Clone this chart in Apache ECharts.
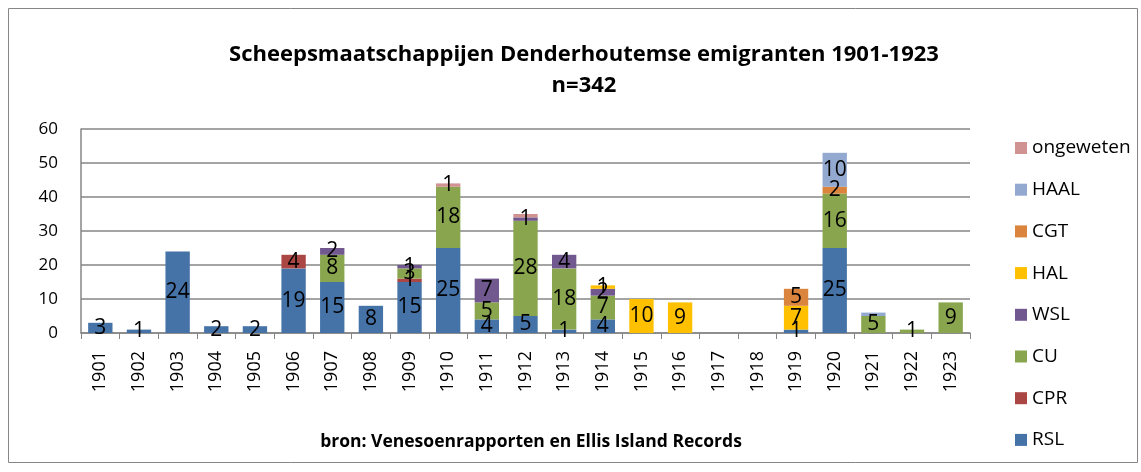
<!DOCTYPE html>
<html>
<head>
<meta charset="utf-8">
<style>
  html, body { margin: 0; padding: 0; background: #fff; }
  #chart { width: 1141px; height: 472px; }
</style>
<script src="https://cdn.jsdelivr.net/npm/echarts@6/dist/echarts.min.js"></script>
</head>
<body>
<div id="chart"></div>
<script>
// Years (categories)
const years = ['1901','1902','1903','1904','1905','1906','1907','1908','1909','1910','1911','1912',
               '1913','1914','1915','1916','1917','1918','1919','1920','1921','1922','1923'];

// Emigrants per shipping company and year
const RSL       = [3, 1, 24, 2, 2, 19, 15, 8, 15, 25, 4, 5, 1, 4, 0, 0, 0, 0, 1, 25, 0, 0, 0];
const CPR       = [0, 0, 0, 0, 0, 4, 0, 0, 1, 0, 0, 0, 0, 0, 0, 0, 0, 0, 0, 0, 0, 0, 0];
const CU        = [0, 0, 0, 0, 0, 0, 8, 0, 3, 18, 5, 28, 18, 7, 0, 0, 0, 0, 0, 16, 5, 1, 9];
const WSL       = [0, 0, 0, 0, 0, 0, 2, 0, 1, 0, 7, 1, 4, 2, 0, 0, 0, 0, 0, 0, 0, 0, 0];
const HAL       = [0, 0, 0, 0, 0, 0, 0, 0, 0, 0, 0, 0, 0, 1, 10, 9, 0, 0, 7, 0, 0, 0, 0];
const CGT       = [0, 0, 0, 0, 0, 0, 0, 0, 0, 0, 0, 0, 0, 0, 0, 0, 0, 0, 5, 2, 0, 0, 0];
const HAAL      = [0, 0, 0, 0, 0, 0, 0, 0, 0, 0, 0, 0, 0, 0, 0, 0, 0, 0, 0, 10, 1, 0, 0];
const ongeweten = [0, 0, 0, 0, 0, 0, 0, 0, 0, 1, 0, 1, 0, 0, 0, 0, 0, 0, 0, 0, 0, 0, 0];

// Value labels left out where a thin segment would collide with its neighbour
const hiddenLabels = { HAAL: ['1921'], ongeweten: ['1912'] };

const seriesDefs = [
  { name: 'RSL',       data: RSL,       color: '#4572A7' },
  { name: 'CPR',       data: CPR,       color: '#AA4643' },
  { name: 'CU',        data: CU,        color: '#89A54E' },
  { name: 'WSL',       data: WSL,       color: '#71588F' },
  { name: 'HAL',       data: HAL,       color: '#FFC000' },
  { name: 'CGT',       data: CGT,       color: '#DB843D' },
  { name: 'HAAL',      data: HAAL,      color: '#93A9CF' },
  { name: 'ongeweten', data: ongeweten, color: '#D19392' }
];

const FONT = '"Open Sans", "Noto Sans", sans-serif';

const series = seriesDefs.map(s => ({
  name: s.name,
  type: 'bar',
  stack: 'total',
  barCategoryGap: '37%',
  itemStyle: { color: s.color },
  label: {
    show: true,
    position: 'inside',
    color: '#000',
    fontFamily: FONT,
    fontSize: 21,
    formatter: p => (p.value ? String(p.value) : '')
  },
  data: s.data.map((v, i) => {
    const hide = (hiddenLabels[s.name] || []).includes(years[i]);
    return hide ? { value: v, label: { show: false } } : v;
  })
}));

const chart = echarts.init(document.getElementById('chart'), null, { renderer: 'canvas' });
chart.setOption({
  animation: false,
  backgroundColor: '#fff',
  textStyle: { fontFamily: FONT },
  title: [
    {
      text: 'Scheepsmaatschappijen Denderhoutemse emigranten 1901-1923\nn=342',
      left: 579, top: 34, textAlign: 'center',
      textStyle: { fontSize: 22, fontWeight: 'bold', color: '#000', lineHeight: 31, fontFamily: FONT }
    },
    {
      text: 'bron: Venesoenrapporten en Ellis Island Records',
      left: 526, top: 426, textAlign: 'center',
      textStyle: { fontSize: 17.5, fontWeight: 'bold', color: '#000', lineHeight: 22, fontFamily: FONT }
    }
  ],
  graphic: [{
    type: 'rect',
    shape: { x: 8.5, y: 8.5, width: 1129, height: 454 },
    style: { fill: 'none', stroke: '#868686', lineWidth: 1 },
    silent: true
  }],
  legend: {
    type: 'plain',
    orient: 'vertical',
    left: 1010, top: 133,
    itemWidth: 12, itemHeight: 12,
    itemGap: 21.7,
    icon: 'rect',
    data: seriesDefs.map(s => s.name).reverse(),
    textStyle: { fontSize: 19, lineHeight: 20, color: '#000', fontFamily: FONT }
  },
  grid: { left: 81, right: 1141 - 970, top: 129, bottom: 472 - 333, containLabel: false },
  xAxis: {
    type: 'category',
    data: years,
    axisLine: { lineStyle: { color: '#868686', width: 1.5 } },
    axisTick: { show: true, alignWithLabel: false, length: 6, lineStyle: { color: '#868686' } },
    axisLabel: { rotate: 90, color: '#000', fontSize: 18, margin: 18, fontFamily: FONT }
  },
  yAxis: {
    type: 'value',
    min: 0, max: 60, interval: 10,
    axisLine: { show: true, lineStyle: { color: '#868686', width: 1.5 } },
    axisTick: { show: false },
    axisLabel: { color: '#000', fontSize: 17, margin: 23, fontFamily: FONT },
    splitLine: { lineStyle: { color: '#868686', width: 1.5 } }
  },
  series
});
</script>
</body>
</html>
